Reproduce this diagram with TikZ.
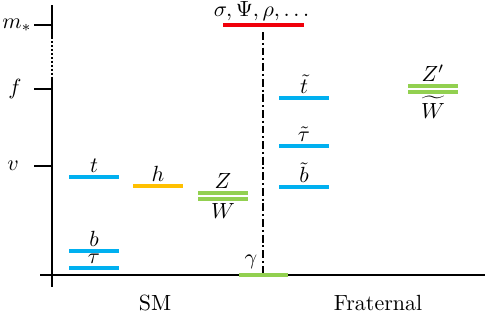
\documentclass[tikz,border=0pt]{standalone}
\usepackage{amsmath,amssymb}
\usepackage{tikz}
\usetikzlibrary{calc}
\definecolor{lvlblue}{RGB}{0,176,240}
\definecolor{lvlorange}{RGB}{255,192,0}
\definecolor{lvlgreen}{RGB}{146,208,80}
\definecolor{lvlred}{RGB}{240,0,10}

\begin{document}
\begin{tikzpicture}[x=0.016cm,y=0.016cm,
    lvl/.style={line width=1.8pt},
    axis/.style={line width=0.9pt},
    lab/.style={inner sep=1pt,text=black}]
  \useasboundingbox (0,0) rectangle (485,317);
  % Mass axis, broken between f and m_*
  \coordinate (ytop) at (52,312); \coordinate (dtop) at (52,280);
  \coordinate (dbot) at (52,240); \coordinate (ybot) at (52,30);
  \draw[axis] (ytop) -- (dtop);
  \draw[axis,dash pattern=on 0.9pt off 0.9pt] (dtop) -- (dbot);
  \draw[axis] (dbot) -- (ybot);
  \coordinate (xleft) at (40,42); \coordinate (xright) at (485,42);
  \draw[axis] (xleft) -- (xright);
  % Scale ticks
  \foreach \nm/\yy/\lx/\txt in {mst/292/17/m_*, f/228/15/f, v/151/13/v}{
    \coordinate (\nm-a) at (34,\yy); \coordinate (\nm-b) at (52,\yy);
    \draw[axis] (\nm-a) -- (\nm-b);
    \node (\nm-lab) at (\lx,\yy) {$\txt$};
  }
  % Separator between the two sectors
  \coordinate (sep-top) at (263,285); \coordinate (sep-bot) at (263,42);
  \draw[line width=0.8pt,dash pattern=on 3.6pt off 1.3pt on 0.9pt off 1.3pt] (sep-top) -- (sep-bot);
  % Mass levels
  \foreach \nm/\xa/\yy/\col/\pos/\txt in {
      t/69/140/lvlblue/above/t, b/69/66/lvlblue/above/b, tau/69/49/lvlblue/above/\tau,
      h/133/131/lvlorange/above/h, Z/198/124/lvlgreen/above/Z, W/198/118/lvlgreen/below/W,
      tt/279/219/lvlblue/above/\tilde{t}, ttau/279/171/lvlblue/above/\tilde{\tau},
      tb/279/130/lvlblue/above/\tilde{b},
      Zp/408/231/lvlgreen/above/Z', tW/408/225/lvlgreen/below/\widetilde{W}}{
    \coordinate (\nm-l) at (\xa,\yy); \coordinate (\nm-r) at (\xa+50,\yy);
    \draw[lvl,\col] (\nm-l) -- (\nm-r) node[midway,\pos,lab] (\nm-lab) {$\txt$};
  }
  % Photon sits on the axis
  \coordinate (gam-l) at (239,42); \coordinate (gam-r) at (288,42);
  \draw[lvl,lvlgreen] (gam-l) -- (gam-r);
  \node (gam-lab) at (251,55) {$\gamma$};
  % Heavy states at m_*
  \coordinate (hv-l) at (223,292); \coordinate (hv-r) at (304,292);
  \draw[lvl,lvlred] (hv-l) -- (hv-r) node[midway,above,lab] (hv-lab) {$\sigma,\Psi,\rho,\dots$};
  % Sector names
  \node (sm) at (155,14) {SM};
  \node (frat) at (378,14) {Fraternal};
\end{tikzpicture}
\end{document}
